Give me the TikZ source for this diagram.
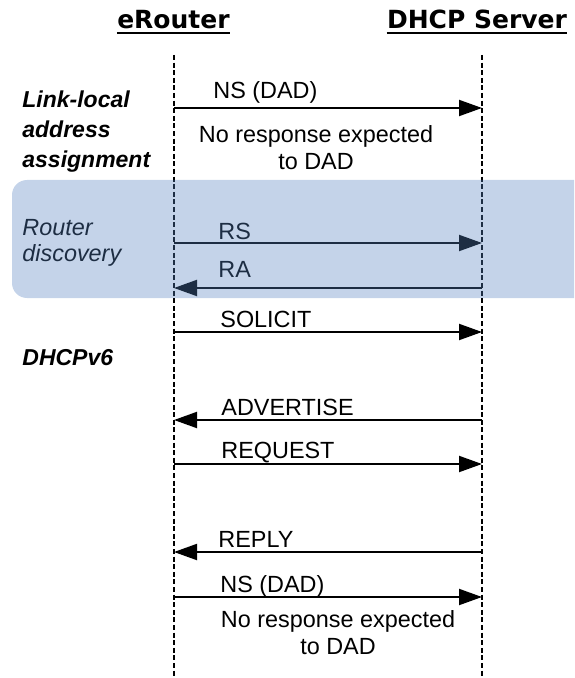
\documentclass[tikz,border=0pt]{standalone}
\usepackage{fontspec}
\setmainfont{Liberation Sans}
\newfontfamily\headfont{DejaVu Sans}
\usetikzlibrary{arrows.meta, positioning}
\definecolor{bandblue}{RGB}{85,130,192}
\tikzstyle{actor} = [font=\headfont\bfseries\fontsize{12.5}{15}\selectfont,
    inner sep=0pt, anchor=base]
\tikzstyle{lifeline} = [line width=0.9pt, dash pattern=on 2.5pt off 1.3pt]
\tikzstyle{msg} = [font=\fontsize{11.7}{14}\selectfont, inner sep=0pt, anchor=base west]
\tikzstyle{note} = [font=\fontsize{11.7}{13.5}\selectfont, inner sep=0pt,
    align=center, anchor=north]
\tikzstyle{phase} = [font=\bfseries\itshape\fontsize{11.5}{15}\selectfont,
    inner sep=0pt, align=left]
\tikzstyle{arrow} = [line width=1pt, -{Triangle[length=11.5pt,width=8pt]}]

\begin{document}
\begin{tikzpicture}[x=0.5pt, y=-0.5pt]
                \useasboundingbox (0,0) rectangle (574,678);

                % actors and lifelines
                \node (er) [actor] at (173.5,29) {eRouter};
                \node (dh) [actor] at (477,29) {DHCP Server};
                \draw [line width=1pt] ([yshift=-2.2pt]er.base west) -- ([yshift=-2.2pt]er.base east);
                \draw [line width=1pt] ([yshift=-2.2pt]dh.base west) -- ([yshift=-2.2pt]dh.base east);
                \coordinate (ertop) at (174,55);
                \coordinate (erbot) at (174,678);
                \coordinate (dhtop) at (482,55);
                \coordinate (dhbot) at (482,678);
                \draw [lifeline] (ertop) -- (erbot);
                \draw [lifeline] (dhtop) -- (dhbot);

                % message ends on the lifelines
                \foreach \m/\y in {ns1/108, rs/243, ra/288, sol/332, adv/420, req/464, rep/552, ns2/597} {
                    \coordinate (er-\m) at (174,\y);
                    \coordinate (dh-\m) at (482,\y);
                }

                % phases
                \node (link) [phase, anchor=north west] at (22,90) {Link-local\\address\\assignment};
                \node (disc) [phase, anchor=north west, font=\itshape\fontsize{11.7}{13}\selectfont]
                    at (22,219) {Router\\discovery};
                \node (dhcp) [phase, anchor=base west] at (22,365) {DHCPv6};

                % messages
                \node (ns1) [msg] at (213,99) {NS (DAD)};
                \draw [arrow] (er-ns1) -- (dh-ns1);
                \node (nr1) [note] at (316,125) {No response expected\\to DAD};

                \node (rs) [msg] at (218,240) {RS};
                \draw [arrow] (er-rs) -- (dh-rs);
                \node (ra) [msg] at (218,278) {RA};
                \draw [arrow] (dh-ra) -- (er-ra);

                \node (sol) [msg] at (220,327) {SOLICIT};
                \draw [arrow] (er-sol) -- (dh-sol);
                \node (adv) [msg] at (221,415) {ADVERTISE};
                \draw [arrow] (dh-adv) -- (er-adv);
                \node (req) [msg] at (221,458) {REQUEST};
                \draw [arrow] (er-req) -- (dh-req);
                \node (rep) [msg] at (218,547) {REPLY};
                \draw [arrow] (dh-rep) -- (er-rep);

                \node (ns2) [msg] at (220,592) {NS (DAD)};
                \draw [arrow] (er-ns2) -- (dh-ns2);
                \node (nr2) [note] at (338,610) {No response expected\\to DAD};

                % router discovery band
                \begin{scope}
                    \clip (0,0) rectangle (574,678);
                    \fill [bandblue, fill opacity=0.35, rounded corners=7.5pt] (12,180) rectangle (620,298);
                \end{scope}
            \end{tikzpicture}
\end{document}
